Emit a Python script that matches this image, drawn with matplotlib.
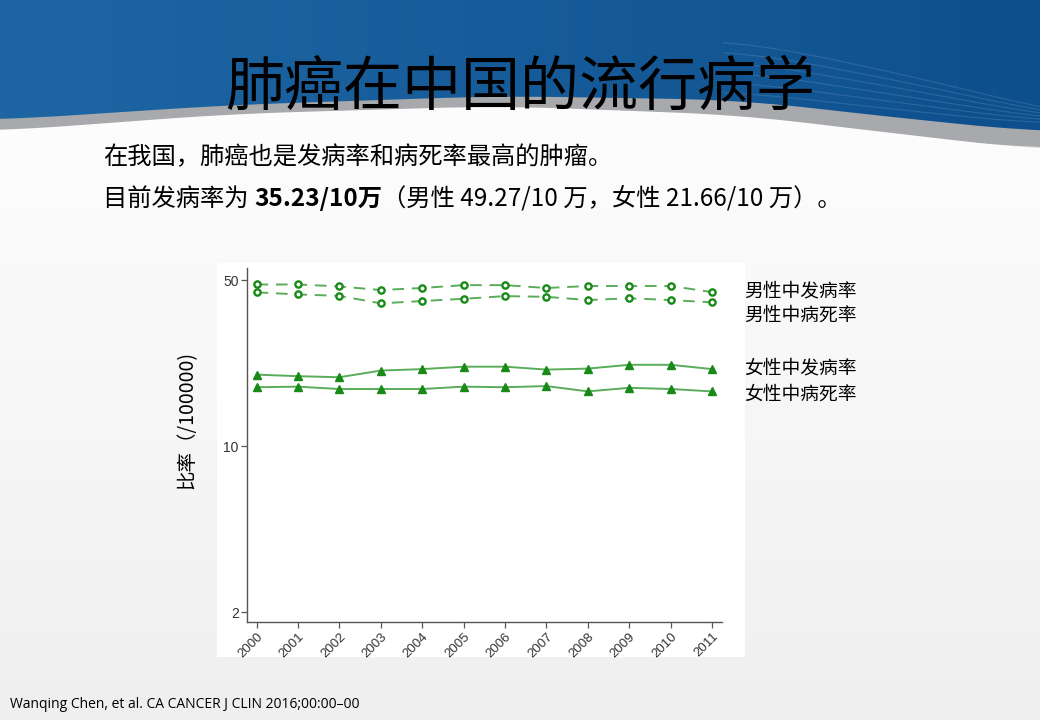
import matplotlib.pyplot as plt
import numpy as np
from matplotlib.colors import LinearSegmentedColormap
from matplotlib.patches import Polygon, Rectangle

plt.rcParams['font.family'] = ['Noto Sans CJK SC', 'DejaVu Sans']

# data (rate per 100000)
years = [2000, 2001, 2002, 2003, 2004, 2005, 2006, 2007, 2008, 2009, 2010, 2011]
male_incidence = [47.9, 47.9, 47.0, 45.4, 46.3, 47.6, 47.6, 46.3, 47.2, 47.2, 47.2, 44.5]
male_mortality = [44.4, 43.5, 42.9, 39.9, 40.8, 41.7, 42.8, 42.5, 41.2, 41.9, 41.2, 40.3]
female_incidence = [20.0, 19.7, 19.5, 20.8, 21.1, 21.6, 21.6, 21.0, 21.2, 22.0, 22.0, 21.1]
female_mortality = [17.7, 17.8, 17.4, 17.4, 17.4, 17.8, 17.7, 17.9, 17.0, 17.6, 17.4, 17.0]
series_labels = ['男性中发病率', '男性中病死率', '女性中发病率', '女性中病死率']
y_ticks = [2, 10, 50]

W, H = 1040, 720
fig = plt.figure(figsize=(W / 100, H / 100), dpi=100)

# slide background drawn in pixel coordinates
bg = fig.add_axes([0, 0, 1, 1])
bg.set_xlim(0, W)
bg.set_ylim(H, 0)
bg.axis('off')

grad = np.linspace(0, 1, 256).reshape(-1, 1)
bg.imshow(grad, extent=[0, W, H, 0], aspect='auto', zorder=0,
          cmap=LinearSegmentedColormap.from_list('lower', ['#ffffff', '#f8f8f8', '#efefef']))

xs = np.linspace(0, W, 300)
edge_x = [0, 230, 500, 740, 900, 1040]
blue_y = [120, 105, 96, 100, 118, 132]
white_y = [131, 114, 106, 115, 134, 150]
blue_edge = np.interp(xs, edge_x, blue_y)
white_edge = np.interp(xs, edge_x, white_y)
# smooth the piecewise edges
kern = np.ones(41) / 41
blue_edge = np.convolve(np.pad(blue_edge, 20, mode='edge'), kern, mode='valid')
white_edge = np.convolve(np.pad(white_edge, 20, mode='edge'), kern, mode='valid')

grey = Polygon(np.column_stack([np.r_[xs, xs[::-1]], np.r_[white_edge, blue_edge[::-1] - 5]]),
               closed=True, facecolor='#a7a9ac', edgecolor='none', zorder=1)
bg.add_patch(grey)
blue_poly = Polygon(np.column_stack([np.r_[xs, W, 0], np.r_[blue_edge, 0, 0]]),
                    closed=True, facecolor='none', edgecolor='none')
bg.add_patch(blue_poly)
hgrad = np.linspace(0, 1, 256).reshape(1, -1)
im = bg.imshow(hgrad, extent=[0, W, 200, 0], aspect='auto', zorder=2,
               cmap=LinearSegmentedColormap.from_list('blue', ['#1d66a3', '#175c9a', '#0d4f8c']))
im.set_clip_path(blue_poly)
m = xs > 720
for k in range(6):
    wave = blue_edge[m] - 8 - 10 * k + (xs[m] - 720) ** 1.5 * 0.0012 * k
    bg.plot(xs[m], wave, color='white', alpha=0.12, lw=0.8, zorder=3)
bg.plot(xs[m], white_edge[m] + 6 - (xs[m] - 720) * 0.02, color='white', alpha=0.6, lw=1.0, zorder=3)

# chart panel
bg.add_patch(Rectangle((217, 263), 528, 394, facecolor='white', edgecolor='none', zorder=4))

fig.text(0.5, 1 - 88 / H, '肺癌在中国的流行病学', ha='center', va='center', fontsize=42.5,
         fontweight='light', color='black')
fs = 17.5
fig.text(103 / W, 1 - 157 / H, '在我国，肺癌也是发病率和病死率最高的肿瘤。', ha='left', va='center',
         fontsize=fs, color='black')
t1 = fig.text(103 / W, 1 - 199 / H, '目前发病率为 ', ha='left', va='center', fontsize=fs)
fig.canvas.draw()
r = fig.canvas.get_renderer()
bb = t1.get_window_extent(r)
t2 = fig.text(bb.x1 / W, 1 - 199 / H, '35.23/10万', ha='left', va='center', fontsize=fs, fontweight='bold')
bb = t2.get_window_extent(r)
fig.text(bb.x1 / W, 1 - 199 / H, '（男性 49.27/10 万，女性 21.66/10 万）。', ha='left', va='center', fontsize=fs)

fig.text(10 / W, 1 - 705 / H, 'Wanqing Chen, et al. CA CANCER J CLIN 2016;00:00–00',
         ha='left', va='center', fontsize=10, family=['Open Sans', 'DejaVu Sans'])

ax = fig.add_axes([247 / W, 1 - 622 / H, (722 - 247) / W, (622 - 268) / H], zorder=5)
ax.patch.set_alpha(0)
ax.set_yscale('log')
ax.set_xlim(1999.77, 2011.24)
ax.set_ylim(1.82, 56.2)

line_c = '#5aac5a'
mark_c = '#178a17'
for vals in (male_incidence, male_mortality):
    ax.plot(years, vals, ls=(0, (6, 4)), color=line_c, lw=1.4, marker='o', ms=4.5,
            mfc='white', mec=mark_c, mew=1.7)
for vals in (female_incidence, female_mortality):
    ax.plot(years, vals, ls='-', color=line_c, lw=1.4, marker='^', ms=6,
            mfc=mark_c, mec=mark_c)

ax.set_yticks(y_ticks)
ax.set_yticklabels([str(v) for v in y_ticks], fontsize=10, color='#333333',
                   family=['Liberation Sans', 'DejaVu Sans'])
ax.yaxis.set_minor_locator(plt.NullLocator())
ax.set_xticks(years)
ax.set_xticklabels([str(y) for y in years], rotation=45, ha='right', rotation_mode='anchor',
                   fontsize=9.5, color='#333333', family=['Liberation Sans', 'DejaVu Sans'])
for s in ['top', 'right']:
    ax.spines[s].set_visible(False)
for s in ['left', 'bottom']:
    ax.spines[s].set_color('#555555')
    ax.spines[s].set_linewidth(1.0)
ax.tick_params(length=4, color='#555555', width=0.9, pad=2)

label_y = [291, 315, 368, 394]
for lab, yy in zip(series_labels, label_y):
    fig.text(744 / W, 1 - yy / H, lab, ha='left', va='center', fontsize=13.5, color='black')

fig.text(187 / W, 1 - 420 / H, '比率（/100000)', rotation=90, ha='center', va='center',
         fontsize=14, color='black')

fig.savefig('out.png', dpi=100)
